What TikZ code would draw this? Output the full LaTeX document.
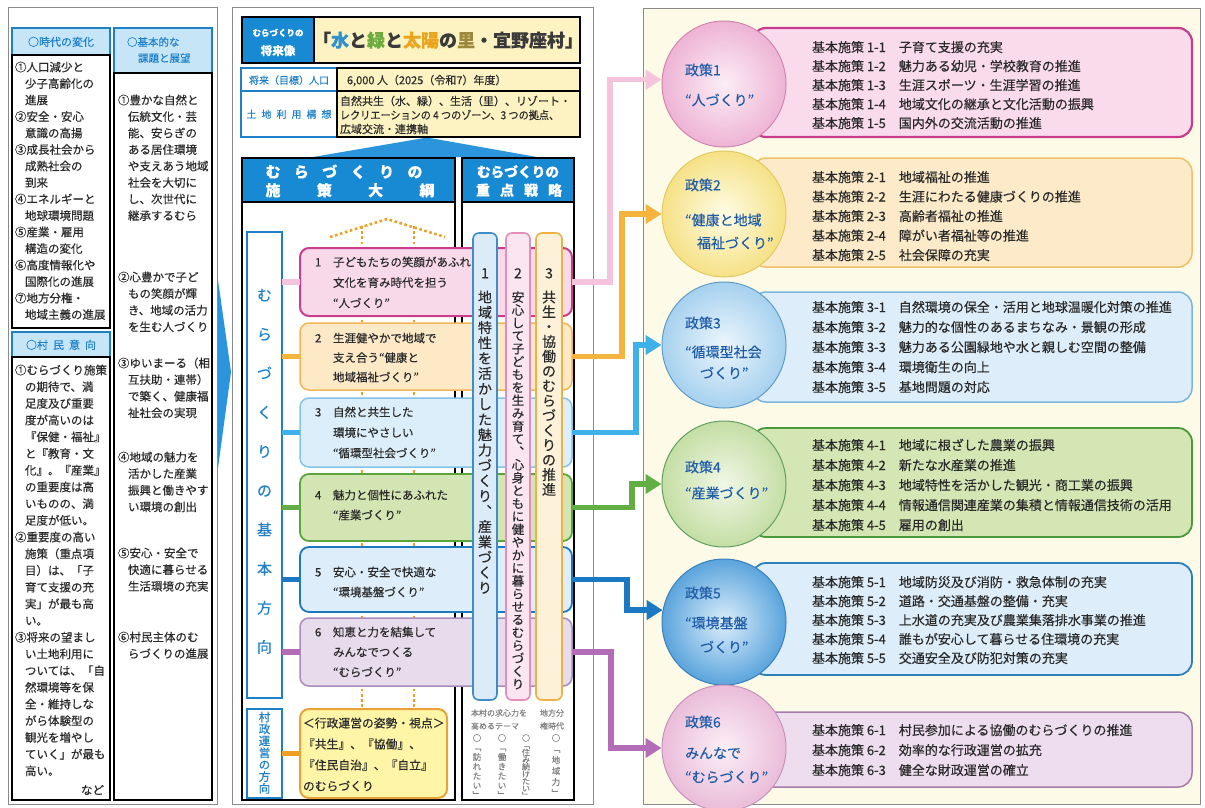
\documentclass[tikz,border=0pt]{standalone}
\usepackage{fontspec}
\usepackage{graphicx}
\setmainfont{Noto Sans CJK JP}[FakeBold=0.35]
\usetikzlibrary{arrows.meta,shapes.geometric}
\definecolor{txt}{HTML}{2A2A2A}
\definecolor{ttxt}{HTML}{3A3A3A}
\definecolor{hblue}{HTML}{1E80C9}
\definecolor{hfill}{HTML}{C6E6F8}
\definecolor{hdblue}{HTML}{1889D3}
\definecolor{roofc}{HTML}{2A95DC}
\definecolor{ylw}{HTML}{FDF3C2}
\definecolor{panelc}{HTML}{8A8A8A}
\definecolor{cream}{HTML}{FDFBE7}
\definecolor{cw}{HTML}{2F8FCF}
\definecolor{cg}{HTML}{6BAB3E}
\definecolor{co}{HTML}{EAA51E}
\definecolor{cbr}{HTML}{9C8A3A}
\definecolor{p1f}{HTML}{F8D9EA}\definecolor{p1d}{HTML}{C93D8E}
\definecolor{p2f}{HTML}{FDE9C6}\definecolor{p2d}{HTML}{F0B658}
\definecolor{p3f}{HTML}{DCEEF9}\definecolor{p3d}{HTML}{86C3E8}
\definecolor{p4f}{HTML}{D4E5B4}\definecolor{p4d}{HTML}{5AA63C}
\definecolor{p5f}{HTML}{DDEEFA}\definecolor{p5d}{HTML}{1C79C0}
\definecolor{p6f}{HTML}{E7DCEB}\definecolor{p6d}{HTML}{A98BBE}
\definecolor{k1}{HTML}{F4C4DC}\definecolor{k2}{HTML}{F5B43E}
\definecolor{k3}{HTML}{3EB0EA}\definecolor{k4}{HTML}{63AE44}
\definecolor{k5}{HTML}{1B79C3}\definecolor{k6}{HTML}{B36DB6}
\definecolor{k7}{HTML}{EFA024}
\definecolor{ybf}{HTML}{FFF5A6}\definecolor{ybd}{HTML}{E9A235}
\definecolor{s1f}{HTML}{DCEBF8}\definecolor{s1d}{HTML}{3D8DC8}
\definecolor{s2f}{HTML}{FBE5F1}\definecolor{s2d}{HTML}{E58CB9}
\definecolor{s3f}{HTML}{FDF1D9}\definecolor{s3d}{HTML}{EFB144}
\definecolor{r1f}{HTML}{F9DBEC}\definecolor{r1d}{HTML}{C83C8E}
\definecolor{r2f}{HTML}{FDEAC8}\definecolor{r2d}{HTML}{EEC068}
\definecolor{r3f}{HTML}{DDEDF9}\definecolor{r3d}{HTML}{78B6DC}
\definecolor{r4f}{HTML}{D5E6B5}\definecolor{r4d}{HTML}{4A9A3C}
\definecolor{r5f}{HTML}{DDEDFA}\definecolor{r5d}{HTML}{2C80BA}
\definecolor{r6f}{HTML}{EDDDEE}\definecolor{r6d}{HTML}{A87CAA}
\definecolor{c1i}{HTML}{FCEEF5}\definecolor{c1o}{HTML}{EEB3D5}\definecolor{c1d}{HTML}{D286AE}
\definecolor{c2i}{HTML}{FFFCE6}\definecolor{c2o}{HTML}{F5E185}\definecolor{c2d}{HTML}{E2CA66}
\definecolor{c3i}{HTML}{EDF6FC}\definecolor{c3o}{HTML}{A6D1EF}\definecolor{c3d}{HTML}{5F9DC8}
\definecolor{c4i}{HTML}{F1F7E6}\definecolor{c4o}{HTML}{C4DEA4}\definecolor{c4d}{HTML}{62A062}
\definecolor{c5i}{HTML}{DDEEFB}\definecolor{c5o}{HTML}{5AA4DC}\definecolor{c5d}{HTML}{3C80BE}
\definecolor{c6i}{HTML}{FCEFF6}\definecolor{c6o}{HTML}{EABCD9}\definecolor{c6d}{HTML}{C493BD}
\definecolor{ctext}{HTML}{1F5CA8}
\definecolor{gtx}{HTML}{808080}
\makeatletter
\newcommand\vstk[2]{\vtop{\baselineskip=#1\relax\lineskiplimit=-50pt\lineskip=0pt\@tfor\vs@c:=#2\do{\hbox to 1.15em{\hss\vs@c\hss}}}}
\makeatother
\newcommand\fsz[1]{\fontsize{#1}{#1}\selectfont}
\newcommand\indt{\hspace*{10pt}}
\newcommand\boxn[6]{\node[inner sep=0pt,outer sep=0pt,#2,minimum width={(#5)-(#3)},minimum height={(#6)-(#4)}] (#1) at ({((#3)+(#5))/2},{((#4)+(#6))/2}) {};}
\newcommand\tlines[6]{\foreach \myl [count=\myi] in {#6} {\node[tx,#5] (#1-\myi) at (#2,{#3+#4*(\myi-1)}) {\myl};}}
\begin{document}
\begin{tikzpicture}[x=1pt,y=-1pt,
 tx/.style={inner sep=0pt,outer sep=0pt,anchor=base west,text=txt},
 panel/.style={draw=panelc,line width=0.9,fill=white},
 lhead/.style={draw=hblue,line width=1.6,fill=hfill},
 lbody/.style={draw=black,line width=1.4,fill=white},
 pbox/.style={rounded corners=9pt,line width=1.8},
 barbox/.style={rounded corners=6pt,line width=1.6},
 rrow/.style={rounded corners=14pt},
 circ/.style={ellipse,minimum width=124,minimum height=126,inner sep=0pt,line width=1},
 sconn/.style={line width=5.5},
 arr/.style={line width=5.5,-{Triangle[length=16pt,width=19pt]}},
 dotor/.style={draw=k7,line width=2.6,dash pattern=on 2.6pt off 2.6pt},
 ctx/.style={tx,text=ctext,font=\fsz{14}},
 itm/.style={font=\fsz{13}},
 ptx/.style={font=\fsz{11.5}},
 gt/.style={tx,text=gtx},
]
\fill[white] (0,0) rectangle (1205,807);
\useasboundingbox (0,0) rectangle (1205,807);

% ================= LEFT PANEL =================
\boxn{lpan}{panel}{8}{7}{217}{804}
\boxn{hA}{lhead}{12}{28}{110}{55}
\node[tx,anchor=base,text=hblue,font=\fsz{11}] (hAt) at (61,46) {○時代の変化};
\boxn{bA}{lbody}{12}{55}{110}{328}
\tlines{la}{15}{71.4}{16.5}{font=\fsz{11.5}}{①人口減少と,\indt 少子高齢化の,\indt 進展,②安全・安心,\indt 意識の高揚,③成長社会から,\indt 成熟社会の,\indt 到来,④エネルギーと,\indt 地球環境問題,⑤産業・雇用,\indt 構造の変化,⑥高度情報化や,\indt 国際化の進展,⑦地方分権・,\indt 地域主義の進展}
\boxn{hA2}{lhead}{12}{332}{110}{357}
\node[tx,anchor=base,text=hblue,font=\fsz{11}] (hA2t) at (61,349) {○村\hspace{5pt}民\hspace{5pt}意\hspace{5pt}向};
\boxn{bA2}{lbody}{12}{357}{110}{800}
\tlines{lb}{15}{374.4}{16.7}{font=\fsz{11.5}}{①むらづくり施策,\indt の期待で、満,\indt 足度及び重要,\indt 度が高いのは,\indt 『保健・福祉』,\indt と『教育・文,\indt 化』。『産業』,\indt の重要度は高,\indt いものの、満,\indt 足度が低い。,②重要度の高い,\indt 施策（重点項,\indt 目）は、「子,\indt 育て支援の充,\indt 実」が最も高,\indt い。,③将来の望まし,\indt い土地利用に,\indt ついては、「自,\indt 然環境等を保,\indt 全・維持しな,\indt がら体験型の,\indt 観光を増やし,\indt ていく」が最も,\indt 高い。}
\node[tx,anchor=base east,font=\fsz{11.5}] (lbn) at (104,794.4) {など};

\boxn{hB}{lhead}{114}{28}{212}{73}
\node[tx,text=hblue,font=\fsz{10.5}] (hBt1) at (127,46) {○基本的な};
\node[tx,text=hblue,font=\fsz{10.5}] (hBt2) at (138,62) {課題と展望};
\boxn{bB}{lbody}{114}{73}{212}{800}
\tlines{lc1}{118}{104.4}{16.5}{font=\fsz{11.5}}{①豊かな自然と,\indt 伝統文化・芸,\indt 能、安らぎの,\indt ある居住環境,\indt や支えあう地域,\indt 社会を大切に,\indt し、次世代に,\indt 継承するむら}
\tlines{lc2}{118}{281.4}{16.6}{font=\fsz{11.5}}{②心豊かで子ど,\indt もの笑顔が輝,\indt き、地域の活力,\indt を生む人づくり}
\tlines{lc3}{118}{367.4}{16.6}{font=\fsz{11.5}}{③ゆいまーる（相,\indt 互扶助・連帯）,\indt で築く、健康福,\indt 祉社会の実現}
\tlines{lc4}{118}{461.4}{16.6}{font=\fsz{11.5}}{④地域の魅力を,\indt 活かした産業,\indt 振興と働きやす,\indt い環境の創出}
\tlines{lc5}{118}{557.4}{16.6}{font=\fsz{11.5}}{⑤安心・安全で,\indt 快適に暮らせる,\indt 生活環境の充実}
\tlines{lc6}{118}{641.4}{16.6}{font=\fsz{11.5}}{⑥村民主体のむ,\indt らづくりの進展}

% chevron
\fill[roofc] (218,280) -- (231,372) -- (218,468) -- cycle;

% ================= MIDDLE PANEL =================
\boxn{mpan}{panel}{232}{7}{593}{804}
\boxn{visL}{fill=hdblue,draw=black,line width=1.3}{242}{17}{314}{63}
\boxn{visR}{fill=ylw,draw=black,line width=1.3}{314}{17}{580}{63}
\node[tx,anchor=base,text=white,font=\bfseries\fsz{8.5}] (visL1) at (278,36) {むらづくりの};
\node[tx,anchor=base,text=white,font=\bfseries\fsz{11.5}] (visL2) at (278,55) {将来像};
\node[tx,anchor=base,text=ttxt,font=\bfseries\fsz{18}] (ttl) at (448,47) {「\textcolor{cw}{水}と\textcolor{cg}{緑}と\textcolor{co}{太陽}の\textcolor{cbr}{里}・宜野座村」};

\fill[roofc] (313,157) -- (427,137.5) -- (537,157) -- cycle;
\boxn{popL}{draw=hblue,line width=1.5,fill=white}{241}{68}{337}{91}
\boxn{popR}{draw=black,line width=1.5,fill=ylw}{337}{68}{580}{91}
\boxn{luL}{draw=hblue,line width=1.5,fill=white}{241}{91}{337}{137}
\boxn{luR}{draw=black,line width=1.5,fill=ylw}{337}{91}{580}{137}
\node[tx,anchor=base,text=hblue,font=\fsz{10}] (popLt) at (289,84) {将来（目標）人口};
\node[tx,anchor=base,text=hblue,font=\fsz{10}] (luLt) at (289,118) {土\hspace{5pt}地\hspace{5pt}利\hspace{5pt}用\hspace{5pt}構\hspace{5pt}想};
\node[tx,font=\fsz{11}] (popRt) at (347,84.2) {6,000 人（2025（令和7）年度）};
\node[tx,font=\fsz{11}] (luR1) at (340,105.2) {自然共生（水、緑）、生活（里）、リゾート・};
\node[tx,font=\fsz{11}] (luR2) at (340,119.2) {\scalebox{0.92}[1]{レクリエーションの 4 つのゾーン、3 つの拠点、}};
\node[tx,font=\fsz{11}] (luR3) at (340,133.2) {広域交流・連携軸};

% column bodies and headers
\boxn{b1}{draw=black,line width=1.5,fill=white}{242}{202}{455}{800}
\boxn{b2}{draw=black,line width=1.5,fill=white}{462}{202}{574}{800}
\boxn{h1}{fill=hdblue,draw=black,line width=1.5}{242}{158}{455}{202}
\boxn{h2}{fill=hdblue,draw=black,line width=1.5}{462}{158}{574}{202}
\node[tx,anchor=base,text=white,font=\bfseries\fsz{15}] (h1a) at (344,177.5) {む\hspace{13.4pt}ら\hspace{13.4pt}づ\hspace{13.4pt}く\hspace{13.4pt}り\hspace{13.4pt}の};
\node[tx,anchor=base,text=white,font=\bfseries\fsz{15}] (h1b) at (350,196) {施\hspace{36.3pt}策\hspace{36.3pt}大\hspace{36.3pt}綱};
\node[tx,anchor=base,text=white,font=\bfseries\fsz{13.7}] (h2a) at (518,177) {むらづくりの};
\node[tx,anchor=base,text=white,font=\bfseries\fsz{14}] (h2b) at (519,195.5) {重\hspace{10pt}点\hspace{10pt}戦\hspace{10pt}略};

% vertical boxes
\boxn{kh}{draw=hblue,line width=1.8,fill=white}{247}{232}{282}{698}
\node[tx,anchor=base,text=hblue,font=\fsz{15}] (kht) at (264.5,300.7) {\vstk{39.1pt}{むらづくりの基本方向}};
\boxn{sw}{draw=hblue,line width=1.8,fill=white}{247}{709}{282}{798}
\node[tx,anchor=base,text=hblue,font=\fsz{11.5}] (swt) at (264.5,721.4) {\vstk{11.9pt}{村政運営の方向}};

% yellow box
\boxn{yb}{pbox,fill=ybf,draw=ybd,line width=2}{300}{709}{447}{798}
\tlines{ybt}{303}{727.5}{21}{font=\fsz{11.8}}{＜行政運営の姿勢・視点＞,『共生』、『協働』、,『住民自治』、『自立』,のむらづくり}

% dotted guide lines
\coordinate (dr1) at (330,237);
\coordinate (dr2) at (387,219);
\coordinate (dr3) at (445,237);
\draw[dotor] (dr1) -- (dr2) -- (dr3);
\coordinate (dv1) at (362,226);
\coordinate (dv2) at (414,226);
\draw[dotor] (dv1) -- (dv1 |- yb.north);
\draw[dotor] (dv2) -- (dv2 |- yb.north);

% policy boxes
\boxn{p1}{pbox,fill=p1f,draw=p1d,line width=2}{300}{248}{572}{316}
\boxn{p2}{pbox,fill=p2f,draw=p2d,line width=1.5}{300}{323}{572}{390}
\boxn{p3}{pbox,fill=p3f,draw=p3d,line width=1.5}{300}{398}{572}{467}
\boxn{p4}{pbox,fill=p4f,draw=p4d,line width=1.8}{300}{474}{572}{541}
\boxn{p5}{pbox,fill=p5f,draw=p5d,line width=1.8}{300}{547}{572}{612}
\boxn{p6}{pbox,fill=p6f,draw=p6d,line width=1.5}{300}{618}{572}{686}
\node[tx,ptx] (p1n) at (315,266.4) {1};
\tlines{p1t}{333}{266.4}{20.5}{ptx}{子どもたちの笑顔があふれ,文化を育み時代を担う,“人づくり”}
\node[tx,ptx] (p2n) at (315,342.4) {2};
\tlines{p2t}{333}{342.4}{19.5}{ptx}{生涯健やかで地域で,支え合う“健康と,地域福祉づくり”}
\node[tx,ptx] (p3n) at (315,416.4) {3};
\tlines{p3t}{333}{416.4}{20.5}{ptx}{自然と共生した,環境にやさしい,“循環型社会づくり”}
\node[tx,ptx] (p4n) at (315,499.4) {4};
\tlines{p4t}{333}{499.4}{20}{ptx}{魅力と個性にあふれた,“産業づくり”}
\node[tx,ptx] (p5n) at (315,576.4) {5};
\tlines{p5t}{333}{576.4}{20}{ptx}{安心・安全で快適な,“環境基盤づくり”}
\node[tx,ptx] (p6n) at (315,636.4) {6};
\tlines{p6t}{333}{636.4}{20}{ptx}{知恵と力を結集して,みんなでつくる,“むらづくり”}

% short connectors
\draw[sconn,draw=k1] (kh.east |- p1.west) -- (p1.west);
\draw[sconn,draw=k2] (kh.east |- p2.west) -- (p2.west);
\draw[sconn,draw=k3] (kh.east |- p3.west) -- (p3.west);
\draw[sconn,draw=k4] (kh.east |- p4.west) -- (p4.west);
\draw[sconn,draw=k5] (kh.east |- p5.west) -- (p5.west);
\draw[sconn,draw=k6] (kh.east |- p6.west) -- (p6.west);
\draw[sconn,draw=k7] (sw.east) -- (yb.west);

% strategy bars
\boxn{s1}{barbox,fill=s1f,draw=s1d}{473}{233}{497}{700}
\boxn{s2}{barbox,fill=s2f,draw=s2d}{506}{233}{530}{700}
\boxn{s3}{barbox,fill=s3f,draw=s3d}{536}{233}{562}{700}
\node[tx,anchor=base,font=\fsz{14}] (s1n) at (485,278.3) {1};
\node[tx,anchor=base,font=\fsz{14}] (s2n) at (518,278.3) {2};
\node[tx,anchor=base,font=\fsz{14}] (s3n) at (549,278.3) {3};
\node[tx,anchor=base,font=\fsz{14}] (s1t) at (485,302.3) {\vstk{15.3pt}{地域特性を活かした魅力づくり︑産業づくり}};
\node[tx,anchor=base,font=\fsz{12.5}] (s2t) at (518,301.8) {\vstk{12.9pt}{安心して子どもを生み育て︑心身ともに健やかに暮らせるむらづくり}};
\node[tx,anchor=base,font=\fsz{14}] (s3t) at (549,302.3) {\vstk{14.8pt}{共生・協働のむらづくりの推進}};

% small notes under bars
\node[gt,font=\fsz{8}] (nt1) at (471,716) {本村の求心力を};
\node[gt,font=\fsz{8}] (nt2) at (471,729) {高めるテーマ};
\node[gt,font=\fsz{8}] (nt3) at (540,716) {地方分};
\node[gt,font=\fsz{8}] (nt4) at (540,729) {権時代};
\node[gt,anchor=base,font=\fsz{8.5}] (nv1) at (477,741.2) {\vstk{9.5pt}{○﹁訪れたい﹂}};
\node[gt,anchor=base,font=\fsz{8.5}] (nv2) at (502,741.2) {\vstk{9.5pt}{○﹁働きたい﹂}};
\node[gt,anchor=base,font=\fsz{8}] (nv3) at (526,741) {\vstk{7.2pt}{○﹁住み続けたい﹂}};
\node[gt,anchor=base,font=\fsz{8.5}] (nv4) at (556,741.2) {\vstk{11pt}{○﹁地域力﹂}};

% ================= RIGHT PANEL =================
\boxn{rpan}{draw=panelc,line width=0.9,fill=cream}{643}{8}{1200}{804}
\boxn{r1}{rrow,fill=r1f,draw=r1d,line width=2.2}{752}{28}{1192}{137}
\boxn{r2}{rrow,fill=r2f,draw=r2d,line width=1.5}{752}{158}{1192}{267}
\boxn{r3}{rrow,fill=r3f,draw=r3d,line width=1.5}{752}{292}{1192}{402}
\boxn{r4}{rrow,fill=r4f,draw=r4d,line width=1.8}{752}{428}{1192}{537}
\boxn{r5}{rrow,fill=r5f,draw=r5d,line width=1.8}{752}{563}{1192}{675}
\boxn{r6}{rrow,fill=r6f,draw=r6d,line width=1.5}{752}{712}{1192}{787}
\tlines{r1t}{812}{52}{19}{itm}{基本施策 1-1　子育て支援の充実,基本施策 1-2　魅力ある幼児・学校教育の推進,基本施策 1-3　生涯スポーツ・生涯学習の推進,基本施策 1-4　地域文化の継承と文化活動の振興,基本施策 1-5　国内外の交流活動の推進}
\tlines{r2t}{812}{182}{19.5}{itm}{基本施策 2-1　地域福祉の推進,基本施策 2-2　生涯にわたる健康づくりの推進,基本施策 2-3　高齢者福祉の推進,基本施策 2-4　障がい者福祉等の推進,基本施策 2-5　社会保障の充実}
\tlines{r3t}{812}{312}{20}{itm}{基本施策 3-1　自然環境の保全・活用と地球温暖化対策の推進,基本施策 3-2　魅力的な個性のあるまちなみ・景観の形成,基本施策 3-3　魅力ある公園緑地や水と親しむ空間の整備,基本施策 3-4　環境衛生の向上,基本施策 3-5　基地問題の対応}
\tlines{r4t}{812}{450}{20}{itm}{基本施策 4-1　地域に根ざした農業の振興,基本施策 4-2　新たな水産業の推進,基本施策 4-3　地域特性を活かした観光・商工業の振興,基本施策 4-4　情報通信関連産業の集積と情報通信技術の活用,基本施策 4-5　雇用の創出}
\tlines{r5t}{812}{587}{19}{itm}{基本施策 5-1　地域防災及び消防・救急体制の充実,基本施策 5-2　道路・交通基盤の整備・充実,基本施策 5-3　上水道の充実及び農業集落排水事業の推進,基本施策 5-4　誰もが安心して暮らせる住環境の充実,基本施策 5-5　交通安全及び防犯対策の充実}
\tlines{r6t}{812}{735}{20}{itm}{基本施策 6-1　村民参加による協働のむらづくりの推進,基本施策 6-2　効率的な行政運営の拡充,基本施策 6-3　健全な財政運営の確立}

\node[circ,inner color=c1i,outer color=c1o,draw=c1d] (c1) at (724,84) {};
\node[circ,inner color=c2i,outer color=c2o,draw=c2d] (c2) at (724,214) {};
\node[circ,inner color=c3i,outer color=c3o,draw=c3d] (c3) at (724,345) {};
\node[circ,inner color=c4i,outer color=c4o,draw=c4d] (c4) at (724,484) {};
\node[circ,inner color=c5i,outer color=c5o,draw=c5d] (c5) at (724,622) {};
\node[circ,inner color=c6i,outer color=c6o,draw=c6d] (c6) at (724,748) {};
\node[ctx] (c1a) at (685,75.3) {政策1};
\node[ctx] (c1b) at (685,105.3) {“人づくり”};
\node[ctx] (c2a) at (685,190.3) {政策2};
\node[ctx] (c2b) at (685,225.3) {“健康と地域};
\node[ctx] (c2c) at (697,248.3) {福祉づくり”};
\node[ctx] (c3a) at (685,328.3) {政策3};
\node[ctx] (c3b) at (685,357.3) {“循環型社会};
\node[ctx] (c3c) at (700,378.3) {づくり”};
\node[ctx] (c4a) at (685,472.3) {政策4};
\node[ctx] (c4b) at (685,498.3) {“産業づくり”};
\node[ctx] (c5a) at (685,598.3) {政策5};
\node[ctx] (c5b) at (685,628.3) {“環境基盤};
\node[ctx] (c5c) at (700,652.3) {づくり”};
\node[ctx] (c6a) at (685,727.3) {政策6};
\node[ctx] (c6b) at (685,758.3) {みんなで};
\node[ctx] (c6c) at (685,782.3) {“むらづくり”};

% long connectors
\coordinate (v1) at (610,0);
\coordinate (v2) at (622,0);
\coordinate (v3) at (636,0);
\coordinate (v4) at (632,0);
\coordinate (v5) at (627,0);
\coordinate (v6) at (611,0);
\draw[arr,draw=k1] (p1.east) -| (v1 |- c1.176) -- (c1.176);
\draw[arr,draw=k2] (p2.east) -| (v2 |- c2.west) -- (c2.west);
\draw[arr,draw=k3] (p3.east) -| (v3 |- c3.west) -- (c3.west);
\draw[arr,draw=k4] (p4.east) -| (v4 |- c4.west) -- (c4.west);
\draw[arr,draw=k5] (p5.east) -| (v5 |- c5.169) -- (c5.169);
\draw[arr,draw=k6] (p6.east) -| (v6 |- c6.west) -- (c6.west);
\end{tikzpicture}
\end{document}
